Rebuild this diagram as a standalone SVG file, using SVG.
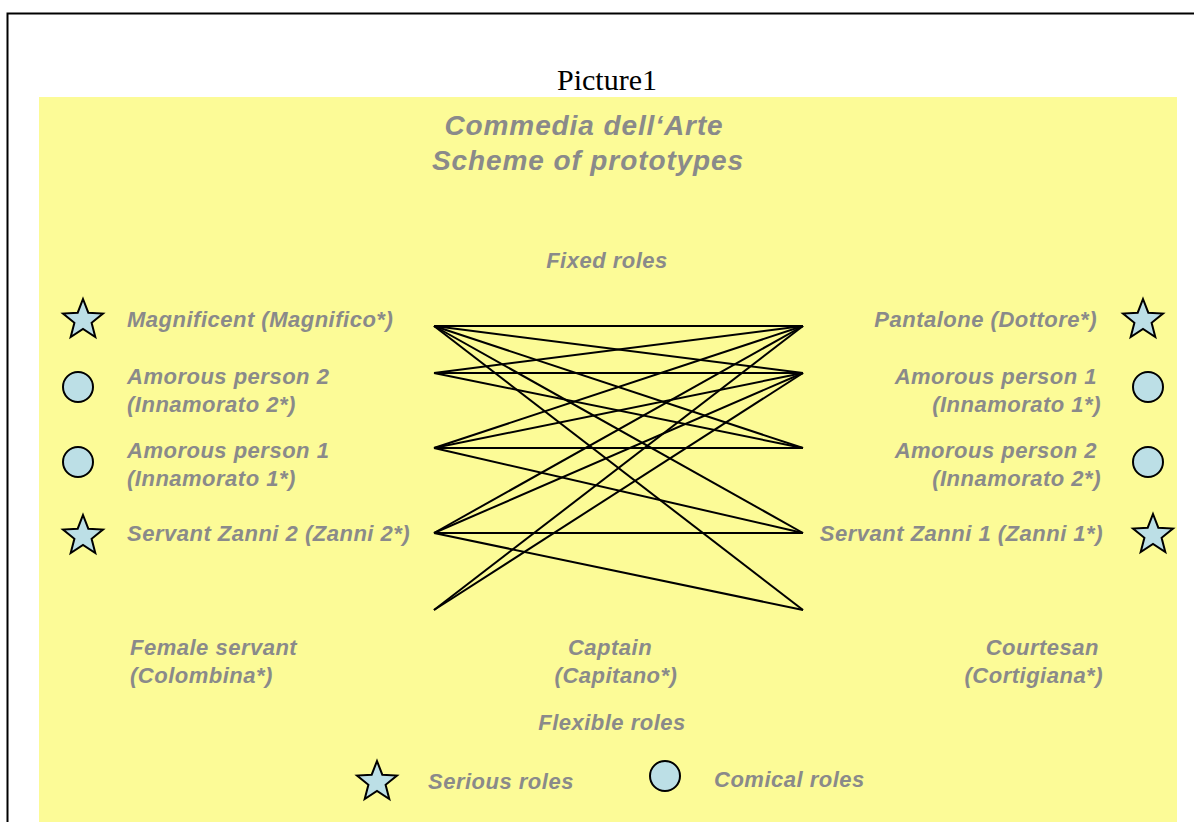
<svg xmlns="http://www.w3.org/2000/svg" width="1194" height="822" viewBox="0 0 1194 822">
  <defs>
    <style>
      .lbl { font-family: "Liberation Sans", Arial, sans-serif; font-weight: bold; font-style: italic; font-size: 22px; letter-spacing: 0.5px; fill: #8a8a8a; }
      .ttl { font-family: "Liberation Sans", Arial, sans-serif; font-weight: bold; font-style: italic; font-size: 28px; letter-spacing: 0.9px; fill: #8a8a8a; }
      .cap { font-family: "Liberation Serif", "Times New Roman", serif; font-size: 30px; fill: #000; }
      .mid { text-anchor: middle; }
      .end { text-anchor: end; }
      .sym { fill: #bcdfe6; stroke: #000; stroke-width: 2; stroke-linejoin: miter; }
      .link { stroke: #000; stroke-width: 2; fill: none; }
    </style>
    <!-- five-pointed star, outer radius 21, centred on the origin -->
    <polygon id="star" points="0,-21 5.3,-7.3 20,-6.5 8.6,2.8 12.3,17 0,8.9 -12.3,17 -8.6,2.8 -20,-6.5 -5.3,-7.3"/>
  </defs>

  <!-- page frame -->
  <rect x="0" y="0" width="1194" height="822" fill="#fff"/>
  <path d="M7.5,822 V13.5 H1194" fill="none" stroke="#000" stroke-width="2"/>
  <text class="cap mid" x="607" y="90">Picture1</text>

  <!-- yellow panel -->
  <rect x="39" y="97" width="1138" height="725" fill="#fcfb97"/>

  <g id="title">
    <text class="ttl mid" x="584" y="135">Commedia dell‘Arte</text>
    <text class="ttl mid" x="588" y="170">Scheme of prototypes</text>
  </g>
  <text id="fixed-roles" class="lbl mid" x="607" y="268">Fixed roles</text>
  <text id="flexible-roles" class="lbl mid" x="612" y="730">Flexible roles</text>

  <!-- connectors between the left and right role columns -->
  <g id="connectors">
    <line class="link" x1="434" y1="326" x2="803" y2="326"/>
    <line class="link" x1="434" y1="326" x2="803" y2="373"/>
    <line class="link" x1="434" y1="326" x2="803" y2="448"/>
    <line class="link" x1="434" y1="326" x2="803" y2="533"/>
    <line class="link" x1="434" y1="326" x2="803" y2="610"/>
    <line class="link" x1="434" y1="373" x2="803" y2="326"/>
    <line class="link" x1="434" y1="373" x2="803" y2="373"/>
    <line class="link" x1="434" y1="373" x2="803" y2="448"/>
    <line class="link" x1="434" y1="448" x2="803" y2="326"/>
    <line class="link" x1="434" y1="448" x2="803" y2="373"/>
    <line class="link" x1="434" y1="448" x2="803" y2="448"/>
    <line class="link" x1="434" y1="448" x2="803" y2="533"/>
    <line class="link" x1="434" y1="533" x2="803" y2="326"/>
    <line class="link" x1="434" y1="533" x2="803" y2="373"/>
    <line class="link" x1="434" y1="533" x2="803" y2="533"/>
    <line class="link" x1="434" y1="533" x2="803" y2="610"/>
    <line class="link" x1="434" y1="610" x2="803" y2="326"/>
    <line class="link" x1="434" y1="610" x2="803" y2="373"/>
  </g>

  <!-- left column -->
  <g id="magnificent">
    <use href="#star" class="sym" x="83" y="320"/>
    <text class="lbl" x="127" y="327">Magnificent (Magnifico*)</text>
  </g>
  <g id="amorous-2-left">
    <circle class="sym" cx="78" cy="387" r="15"/>
    <text class="lbl" x="127" y="384">Amorous person 2</text>
    <text class="lbl" x="127" y="412">(Innamorato 2*)</text>
  </g>
  <g id="amorous-1-left">
    <circle class="sym" cx="78" cy="462" r="15"/>
    <text class="lbl" x="127" y="458">Amorous person 1</text>
    <text class="lbl" x="127" y="486">(Innamorato 1*)</text>
  </g>
  <g id="zanni-2">
    <use href="#star" class="sym" x="83" y="536"/>
    <text class="lbl" x="127" y="541">Servant Zanni 2 (Zanni 2*)</text>
  </g>

  <!-- right column -->
  <g id="pantalone">
    <use href="#star" class="sym" x="1143" y="320"/>
    <text class="lbl end" x="1097" y="327">Pantalone (Dottore*)</text>
  </g>
  <g id="amorous-1-right">
    <circle class="sym" cx="1148" cy="387" r="15"/>
    <text class="lbl end" x="1097" y="384">Amorous person 1</text>
    <text class="lbl end" x="1101" y="412">(Innamorato 1*)</text>
  </g>
  <g id="amorous-2-right">
    <circle class="sym" cx="1148" cy="462" r="15"/>
    <text class="lbl end" x="1097" y="458">Amorous person 2</text>
    <text class="lbl end" x="1101" y="486">(Innamorato 2*)</text>
  </g>
  <g id="zanni-1">
    <use href="#star" class="sym" x="1153" y="535"/>
    <text class="lbl end" x="1103" y="541">Servant Zanni 1 (Zanni 1*)</text>
  </g>

  <!-- flexible roles -->
  <g id="female-servant">
    <text class="lbl" x="130" y="655">Female servant</text>
    <text class="lbl" x="130" y="683">(Colombina*)</text>
  </g>
  <g id="captain">
    <text class="lbl mid" x="610" y="655">Captain</text>
    <text class="lbl mid" x="616" y="683">(Capitano*)</text>
  </g>
  <g id="courtesan">
    <text class="lbl end" x="1099" y="655">Courtesan</text>
    <text class="lbl end" x="1103" y="683">(Cortigiana*)</text>
  </g>

  <!-- legend -->
  <g id="legend-serious">
    <use href="#star" class="sym" x="377" y="782"/>
    <text class="lbl" x="428" y="789">Serious roles</text>
  </g>
  <g id="legend-comical">
    <circle class="sym" cx="665" cy="776" r="15"/>
    <text class="lbl" x="714" y="787">Comical roles</text>
  </g>
</svg>
